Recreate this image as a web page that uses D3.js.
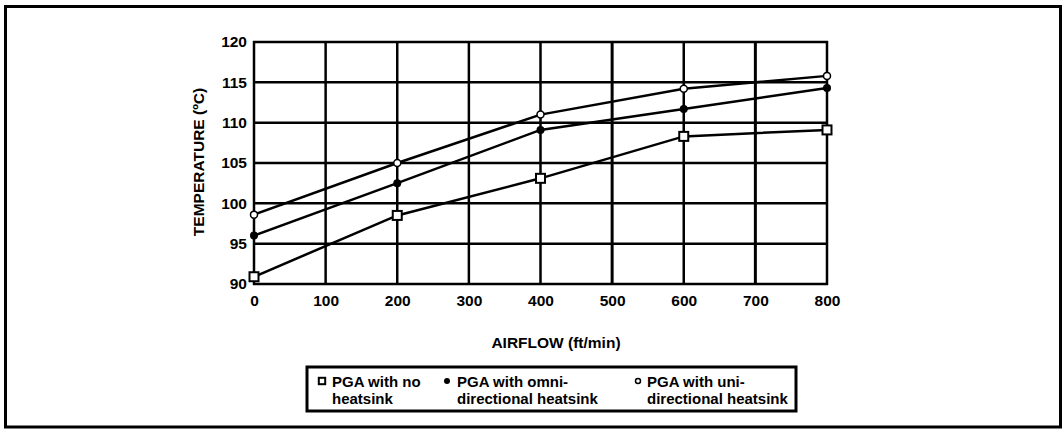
<!DOCTYPE html>
<html><head><meta charset="utf-8">
<script src="https://cdn.jsdelivr.net/npm/d3@7"></script>
<style>
body{margin:0;background:#fff;}
text{font-family:"Liberation Sans",Arial,sans-serif;font-weight:bold;fill:#000;}
</style></head>
<body><svg id="c" width="1064" height="434"></svg>
<script>
const airflow = [0, 200, 400, 600, 800];
const noHeatsink = [90.9, 98.5, 103.1, 108.3, 109.1];
const omniHeatsink = [96.0, 102.5, 109.1, 111.7, 114.3];
const uniHeatsink = [98.6, 105.0, 111.0, 114.2, 115.8];
const xTicks = [0, 100, 200, 300, 400, 500, 600, 700, 800];
const yTicks = [90, 95, 100, 105, 110, 115, 120];
const seriesNames = [["PGA with no", "heatsink"], ["PGA with omni-", "directional heatsink"], ["PGA with uni-", "directional heatsink"]];
const xTitle = "AIRFLOW (ft/min)";
const yTitle = "TEMPERATURE (ºC)";

const svg = d3.select("#c");
svg.append("rect").attr("x",5.5).attr("y",6.5).attr("width",1055).attr("height",420.5)
  .attr("fill","none").attr("stroke","#000").attr("stroke-width",3);

const x = d3.scaleLinear().domain([0,800]).range([254,827]);
const y = d3.scaleLinear().domain([90,120]).range([284,42]);

const g = svg.append("g");
g.selectAll(".vg").data(xTicks).enter().append("line")
  .attr("x1",d=>x(d)).attr("x2",d=>x(d)).attr("y1",y(90)+1).attr("y2",y(120)-1)
  .attr("stroke","#000").attr("stroke-width",d=>(d===500||d===700)?3:2.5);
g.selectAll(".hg").data(yTicks).enter().append("line")
  .attr("x1",x(0)-1).attr("x2",x(800)+1).attr("y1",d=>y(d)).attr("y2",d=>y(d))
  .attr("stroke","#000").attr("stroke-width",2.5);

const xAxis = svg.append("g").attr("transform",`translate(0,${y(90)})`)
  .call(d3.axisBottom(x).tickValues(xTicks).tickSize(0).tickPadding(11));
xAxis.select(".domain").remove();
xAxis.selectAll("text").attr("font-size",15.5).attr("font-family","Liberation Sans, Arial").attr("font-weight","bold").attr("fill","#000");
const yAxis = svg.append("g").attr("transform",`translate(${x(0)},0)`)
  .call(d3.axisLeft(y).tickValues(yTicks).tickSize(0).tickPadding(7));
yAxis.select(".domain").remove();
yAxis.selectAll("text").attr("font-size",15.5).attr("font-family","Liberation Sans, Arial").attr("font-weight","bold").attr("fill","#000");

svg.append("text").attr("x",556).attr("y",348).attr("text-anchor","middle").attr("font-size",15.5).text(xTitle);
svg.append("text").attr("transform","translate(204,162) rotate(-90)").attr("text-anchor","middle").attr("font-size",15.5).text(yTitle);

const series = [noHeatsink, omniHeatsink, uniHeatsink];
const line = d3.line().x((d,i)=>x(airflow[i])).y(d=>y(d));
series.forEach(s=>{
  svg.append("path").attr("d",line(s)).attr("fill","none").attr("stroke","#000").attr("stroke-width",2.5);
});
function marker(sel, type, cx, cy, sz){
  if(type===0){
    sel.append("rect").attr("x",cx-sz).attr("y",cy-sz).attr("width",2*sz).attr("height",2*sz)
      .attr("fill","#fff").attr("stroke","#000").attr("stroke-width",2);
  } else if(type===1){
    sel.append("circle").attr("cx",cx).attr("cy",cy).attr("r",sz).attr("fill","#000");
  } else {
    sel.append("circle").attr("cx",cx).attr("cy",cy).attr("r",sz-0.5).attr("fill","#fff").attr("stroke","#000").attr("stroke-width",1.5);
  }
}
series.forEach((s,k)=>{
  s.forEach((v,i)=>marker(svg,k,x(airflow[i]),y(v),k===0?4.5:4));
});

svg.append("rect").attr("x",307).attr("y",367).attr("width",489).attr("height",44)
  .attr("fill","#fff").attr("stroke","#000").attr("stroke-width",3);
const legX = [[322,332],[447,457],[638,647]];
seriesNames.forEach((nm,k)=>{
  marker(svg,k,legX[k][0],381,k===0?3.2:3);
  svg.append("text").attr("x",legX[k][1]).attr("y",387).attr("font-size",15).text(nm[0]);
  svg.append("text").attr("x",legX[k][1]).attr("y",404).attr("font-size",15).text(nm[1]);
});
</script></body></html>
